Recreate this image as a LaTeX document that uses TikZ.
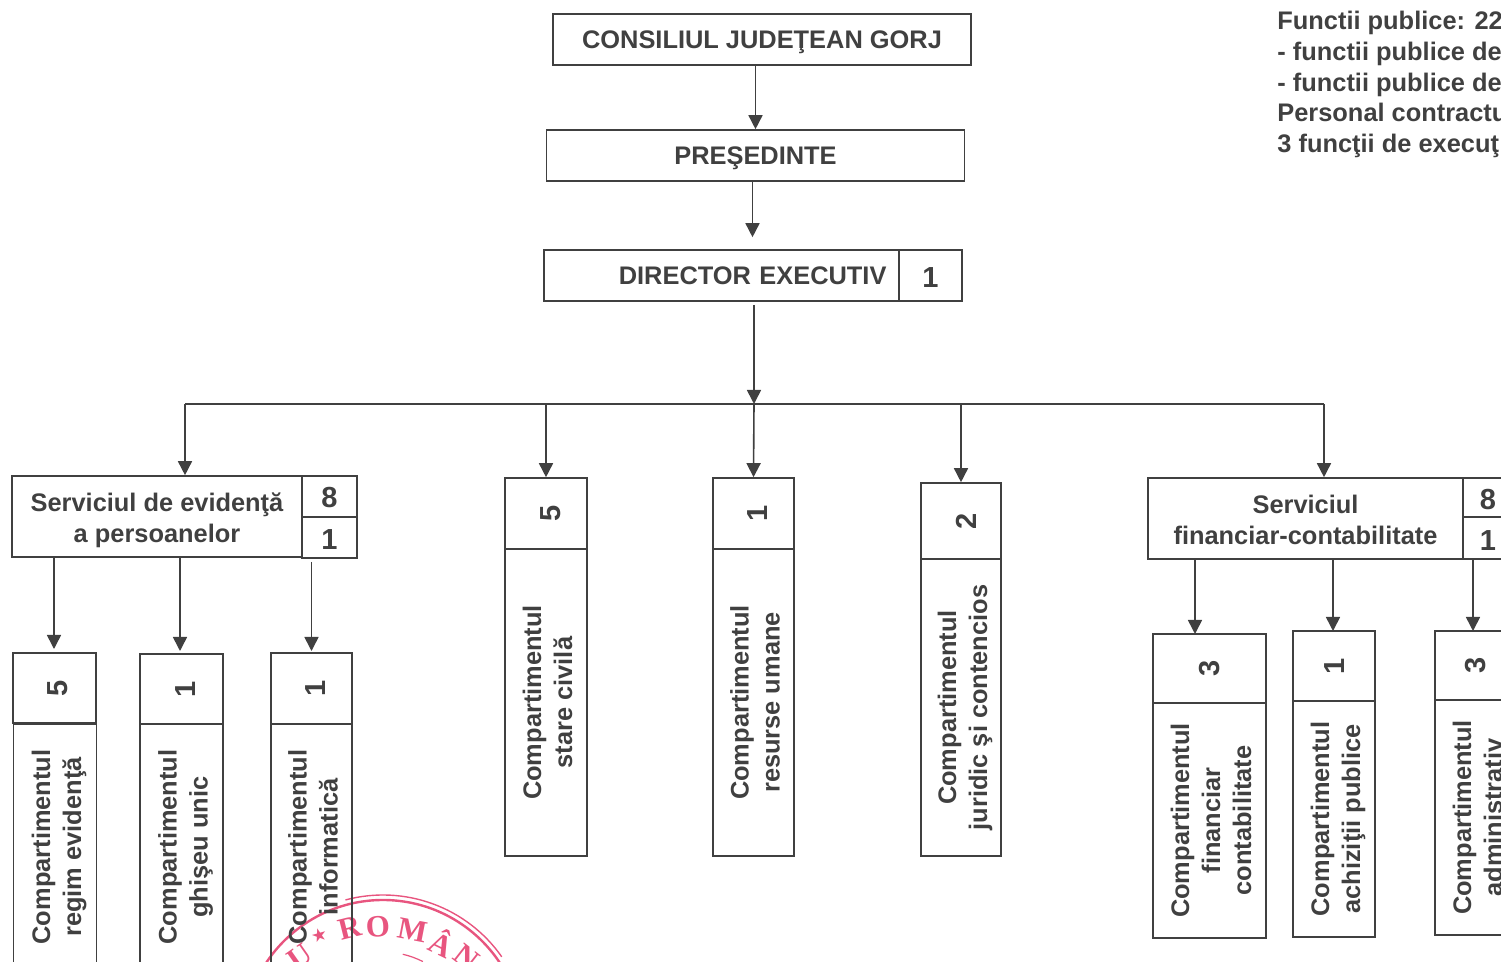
\documentclass[tikz,border=0pt]{standalone}
\usepackage{fontspec}
\setmainfont{Liberation Sans}
\newfontfamily\stampfont{Liberation Serif}
\newfontfamily\starfont{DejaVu Sans}
\usetikzlibrary{arrows.meta}

\definecolor{inkgray}{HTML}{404040}
\definecolor{stampred}{HTML}{E8557F}
\newcommand{\linebox}{\rule[-3pt]{0pt}{15pt}}
\newcommand{\topbox}{\raisebox{1.5pt}{\rule[-3pt]{0pt}{15pt}}}

\begin{document}
\begin{tikzpicture}[x=0.5pt,y=-0.5pt,
                wh/.style 2 args={minimum width=#1*0.5pt,minimum height=#2*0.5pt},
                main node/.style={draw=inkgray,line width=0.8pt,inner sep=0pt,text=inkgray,align=center,
                        execute at begin node=\linebox,execute at end node=\linebox,
                        font=\fontsize{12.7}{15.3}\selectfont\bfseries},
                num node/.style={main node,font=\fontsize{14.5}{16}\selectfont\bfseries},
                side node/.style={main node,rotate=90,font=\fontsize{12.7}{15.5}\selectfont\bfseries},
                sidenum node/.style={num node,rotate=90},
                link/.style={draw=inkgray,line width=0.8pt,-{Triangle[length=7pt,width=7pt,fill=inkgray]}},
                stamp letter/.style={text=stampred,inner sep=0pt,font=\fontsize{15.5}{15.5}\selectfont\stampfont\bfseries}]

	\clip (0,0) rectangle (1501,962);

	% stamp, under the boxes
	\coordinate (stampc) at (383,1040);
	\draw[stampred,line width=1.2pt] (stampc) circle [radius=140];
	\draw[stampred,line width=0.7pt] ([shift={(255:145)}]stampc) arc [start angle=255,end angle=325,radius=145];
	\draw[stampred,line width=0.6pt] ([shift={(283:88)}]stampc) arc [start angle=283,end angle=297,radius=88];
	\node[stamp letter,text=stampred,font=\fontsize{9}{9}\selectfont\starfont,rotate=16] (stars) at (319,935) {★};
	\node[stamp letter,rotate=14] (stamr) at (350,928) {R};
	\node[stamp letter,rotate=3] (stamo) at (378,927) {O};
	\node[stamp letter,rotate=-11] (stamm) at (413,930) {M};
	\node[stamp letter,rotate=-26] (stama) at (442,942) {Â};
	\node[stamp letter,rotate=-38] (stamn) at (467,957) {N};
	\node[stamp letter,rotate=35] (stamu) at (300,957) {U};

	% top of the chart
	\node[main node,wh={418}{51}] (cons) at (762,39.5) {CONSILIUL JUDEŢEAN GORJ};
	\node[main node,wh={418}{51}] (pres) at (755.5,155.5) {PREŞEDINTE};
	\node[main node,wh={355}{51},text width=170pt,align=right] (dir) at (721.5,275.5) {DIRECTOR EXECUTIV\hspace*{2.5pt}};
	\node[num node,wh={63}{51}] (dirn) at (930.5,275.5) {\raisebox{-1.5pt}{1}};

	% staff note, cut by the page
	\node[anchor=north west,inner sep=0pt,text=inkgray,align=left,
		font=\fontsize{12.7}{15.35}\selectfont\bfseries] (note) at (1277,11)
		{Functii publice: 22\\- functii publice de\\- functii publice de\\Personal contractu\\3 funcţii de execuţ};

	% left service
	\node[main node,wh={290}{81}] (evid) at (157,516.5) {\topbox Serviciul de evidenţă\\a persoanelor};
	\node[num node,wh={55}{41}] (evida) at (329.5,496.5) {\raisebox{-1pt}{8}};
	\node[num node,wh={55}{41}] (evidb) at (329.5,537.5) {\raisebox{-1.5pt}{1}};

	\node[sidenum node,wh={70}{83}] (regn) at (54.5,688) {\raisebox{-2pt}{5}};
	\node[side node,wh={246}{83}] (reg) at (55,847) {\topbox Compartimentul\\regim evidenţă};
	\node[sidenum node,wh={70}{83}] (ghin) at (181.5,689) {\raisebox{-2.5pt}{1}};
	\node[side node,wh={246}{83}] (ghi) at (181.5,847) {\topbox Compartimentul\\ghişeu unic};
	\node[sidenum node,wh={71}{81}] (infn) at (311.5,688.5) {\raisebox{-2.5pt}{1}};
	\node[side node,wh={246}{81}] (inf) at (311.5,847) {\topbox Compartimentul\\informatică};

	% middle
	\node[sidenum node,wh={71}{82}] (stan) at (546,513.5) {\raisebox{-3pt}{5}};
	\node[side node,wh={307}{82}] (sta) at (546,702.5) {\topbox Compartimentul\\stare civilă};
	\node[sidenum node,wh={71}{81}] (resn) at (753.5,513.5) {\raisebox{-2.5pt}{1}};
	\node[side node,wh={307}{81}] (res) at (753.5,702.5) {\topbox Compartimentul\\resurse umane};
	\node[sidenum node,wh={76}{80}] (jurn) at (961,521) {\raisebox{-3pt}{2}};
	\node[side node,wh={297}{80}] (jur) at (961,707.5) {\topbox Compartimentul\\juridic şi contencios};

	% right service
	\node[main node,wh={315}{81}] (fin) at (1305.5,518.5) {\topbox Serviciul\\financiar-contabilitate};
	\node[num node,wh={50}{39}] (fina) at (1488,497.5) {\raisebox{-1.5pt}{8}};
	\node[num node,wh={50}{42}] (finb) at (1488,538) {\raisebox{-2pt}{1}};

	\node[sidenum node,wh={69}{113}] (ficn) at (1209.5,668.5) {\raisebox{-0.5pt}{3}};
	\node[side node,wh={235}{113}] (fic) at (1209.5,820.5) {\topbox Compartimentul\\financiar\\contabilitate};
	\node[sidenum node,wh={70}{82}] (achn) at (1334,666) {\raisebox{-0.5pt}{1}};
	\node[side node,wh={236}{82}] (ach) at (1334,819) {\topbox Compartimentul\\achiziţii publice};
	\node[sidenum node,wh={69}{82}] (admn) at (1476,665.5) {3};
	\node[side node,wh={235}{82}] (adm) at (1476,817.5) {\topbox Compartimentul\\administrativ};

	% bus and end points of the branches
	\coordinate (bus) at (754,404);
	\coordinate (busl) at (185,404);
	\coordinate (busr) at (1324,404);
	\coordinate (ficin) at (1195,634);
	\coordinate (achin) at (1333,631);
	\coordinate (admin) at (1473,631);
	\coordinate (ghiin) at (180,651);
	\coordinate (regin) at (54,649);
	\coordinate (infin) at (311.5,651);
	\draw[draw=inkgray,line width=0.8pt] (busl) -- (busr);

	\path[every edge/.style={link}]
	(cons.south -| pres.north) edge (pres.north)
	([xshift=-1.5pt]pres.south) edge ([xshift=-1.5pt,yshift=6pt]dir.north -| pres.south)
	([yshift=-1.5pt]bus |- dir.south) edge (bus)
	(busl) edge (evid.north -| busl)
	(bus -| stan.east) edge (stan.east)
	(bus) edge (resn.east)
	(bus -| jurn.east) edge (jurn.east)
	(busr) edge (fin.north -| busr)
	(evid.south -| regin) edge (regin)
	(evid.south -| ghiin) edge (ghiin)
	([yshift=-1.5pt]evidb.south -| infin) edge (infin)
	(fin.south -| ficin) edge (ficin)
	(fin.south -| achin) edge (achin)
	(fin.south -| admin) edge (admin)
	;
\end{tikzpicture}
\end{document}
